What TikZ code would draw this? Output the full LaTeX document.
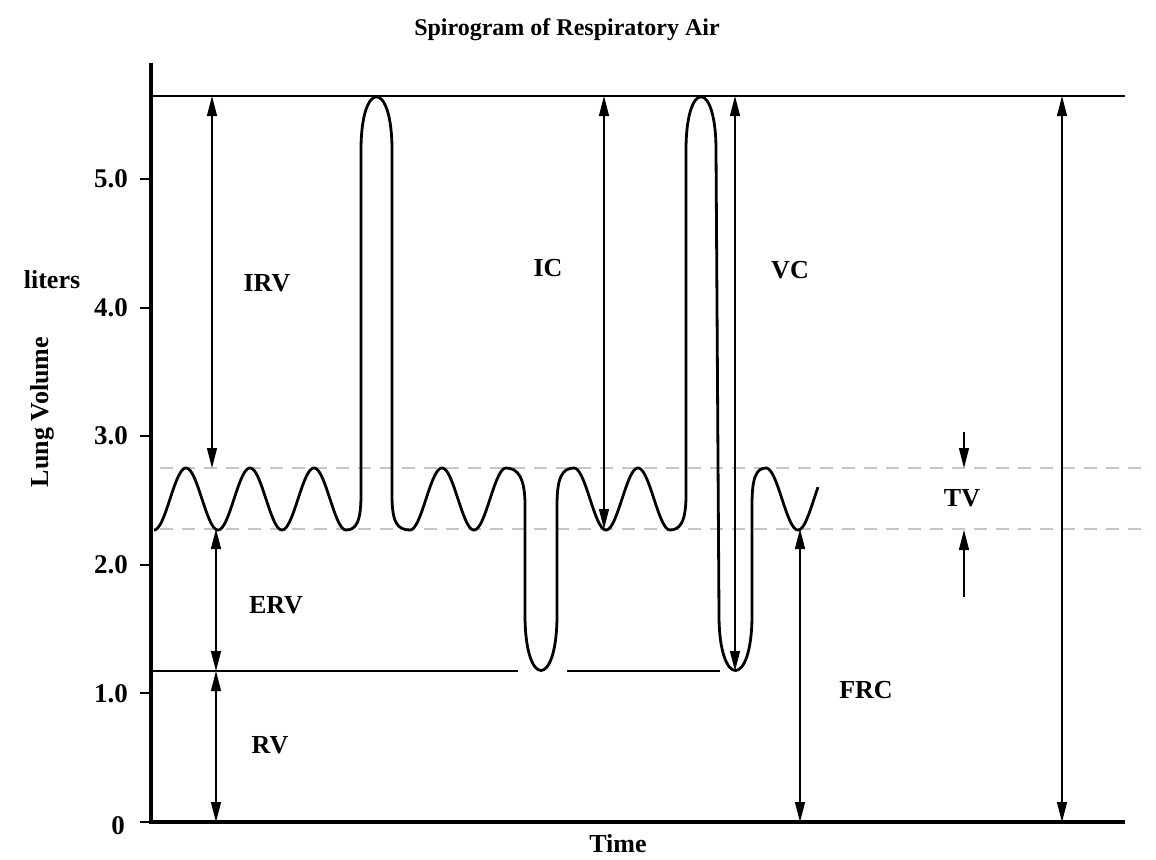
\documentclass[tikz,border=0pt]{standalone}
\usepackage{fontspec}
\setmainfont{Liberation Serif}
\usetikzlibrary{arrows.meta}
\begin{document}
\begin{tikzpicture}[x=1pt,y=-1pt,
  lbl/.style={font=\fontsize{26}{30}\selectfont\bfseries, inner sep=0pt},
  ticklbl/.style={font=\fontsize{27}{30}\selectfont\bfseries, inner sep=0pt, anchor=east},
  axisline/.style={line width=3.5pt},
  curve/.style={line width=2.8pt, line join=round},
  refline/.style={line width=2pt},
  guide/.style={gray!45, line width=1.1pt, dash pattern=on 13pt off 9pt},
  dimarrow/.style={line width=1.3pt, {Triangle[length=20pt,width=10pt]}-{Triangle[length=20pt,width=10pt]}},
  onearrow/.style={line width=1.3pt, -{Triangle[length=20pt,width=10pt]}}
]
\useasboundingbox[fill=white] (0,0) rectangle (1156,859);

% title and axis labels
\node[lbl, font=\fontsize{24}{28}\selectfont\bfseries] (title) at (567,30) {Spirogram of Respiratory Air};
\node[lbl] (liters) at (52,280) {liters};
\node[lbl, rotate=90] (lungvol) at (42,412) {Lung Volume};
\node[lbl] (time) at (618,844) {Time};

% guide (dashed) lines
\coordinate (g1a) at (160,468); \coordinate (g1b) at (1150,468);
\coordinate (g2a) at (160,529); \coordinate (g2b) at (1150,529);
\draw[guide] (g1a) -- (g1b);
\draw[guide] (g2a) -- (g2b);

% axes
\coordinate (yTop) at (151,63);
\coordinate (origin) at (151,822);
\coordinate (xEnd) at (1125,822);
\draw[axisline] (yTop) -- (origin) -- (xEnd);

% ticks and tick labels
\foreach \v in {0,1,2,3,4,5}{
  \coordinate (t\v) at (151,{822-128.6*\v});
  \coordinate (tl\v) at (140,{822-128.6*\v});
  \draw[line width=2pt] (t\v) -- (tl\v);
}
\foreach \v/\lab in {1/1.0,2/2.0,3/3.0,4/4.0,5/5.0}{
  \node[ticklbl] (lab\v) at (128,{822-128.6*\v}) {\lab};
}
\node[ticklbl] (lab0) at (125,826) {0};

% reference lines
\coordinate (topA) at (151,96); \coordinate (topB) at (1125,96);
\draw[refline] (topA) -- (topB);
\coordinate (rvA) at (151,671); \coordinate (rvB) at (518,671);
\coordinate (rvC) at (567,671); \coordinate (rvD) at (720,671);
\draw[line width=2.6pt] (rvA) -- (rvB);
\draw[line width=2.6pt] (rvC) -- (rvD);

% spirogram curve
\draw[curve]
  plot[domain=154:346,samples=150] (\x,{499+31*cos(5.625*(\x-154))})
  .. controls (356,530) and (361,522) .. (361,495)
  -- (361,150) .. controls (361,79) and (392,79) .. (392,150)
  -- (392,495) .. controls (392,522) and (397,530) .. (410,530)
  -- plot[domain=410:506,samples=80] (\x,{499+31*cos(5.625*(\x-410))})
  .. controls (518,468) and (525,478) .. (525,505)
  -- (525,615) .. controls (525,689) and (557,689) .. (557,615)
  -- (557,505) .. controls (557,478) and (562,468) .. (574,468)
  -- plot[domain=574:670,samples=80] (\x,{499-31*cos(5.625*(\x-574))})
  .. controls (680,530) and (686,522) .. (686,495)
  -- (686,150) .. controls (686,79) and (716,79) .. (716,150)
  -- (719,615) .. controls (719,689) and (752,689) .. (752,615)
  -- (752,505) .. controls (752,478) and (756,468) .. (766,468)
  -- plot[domain=766:818,samples=50] (\x,{499-31*cos(5.625*(\x-766))});

% dimension arrows
\coordinate (irvT) at (212,96);  \coordinate (irvB) at (212,468);
\coordinate (ervT) at (216,529); \coordinate (ervB) at (216,671);
\coordinate (rvT) at (216,671);  \coordinate (rvBt) at (216,822);
\coordinate (icT) at (604,96);   \coordinate (icB) at (604,529);
\coordinate (vcT) at (735,96);   \coordinate (vcB) at (735,671);
\coordinate (frcT) at (800,529); \coordinate (frcB) at (800,822);
\coordinate (tlcT) at (1062,96); \coordinate (tlcB) at (1062,822);
\draw[dimarrow] (irvT) -- (irvB);
\draw[dimarrow] (ervT) -- (ervB);
\draw[dimarrow] (rvT) -- (rvBt);
\draw[dimarrow] (icT) -- (icB);
\draw[dimarrow] (vcT) -- (vcB);
\draw[dimarrow] (frcT) -- (frcB);
\draw[dimarrow] (tlcT) -- (tlcB);

\coordinate (tvA) at (964,432); \coordinate (tvB) at (964,468);
\coordinate (tvC) at (964,597); \coordinate (tvD) at (964,530);
\draw[onearrow] (tvA) -- (tvB);
\draw[onearrow] (tvC) -- (tvD);

% labels
\node[lbl] (irv) at (267,283) {IRV};
\node[lbl] (ic) at (548,268) {IC};
\node[lbl] (vc) at (790,270) {VC};
\node[lbl] (erv) at (276,605) {ERV};
\node[lbl] (rv) at (270,745) {RV};
\node[lbl] (frc) at (866,690) {FRC};
\node[lbl] (tv) at (962,498) {TV};
\end{tikzpicture}
\end{document}
